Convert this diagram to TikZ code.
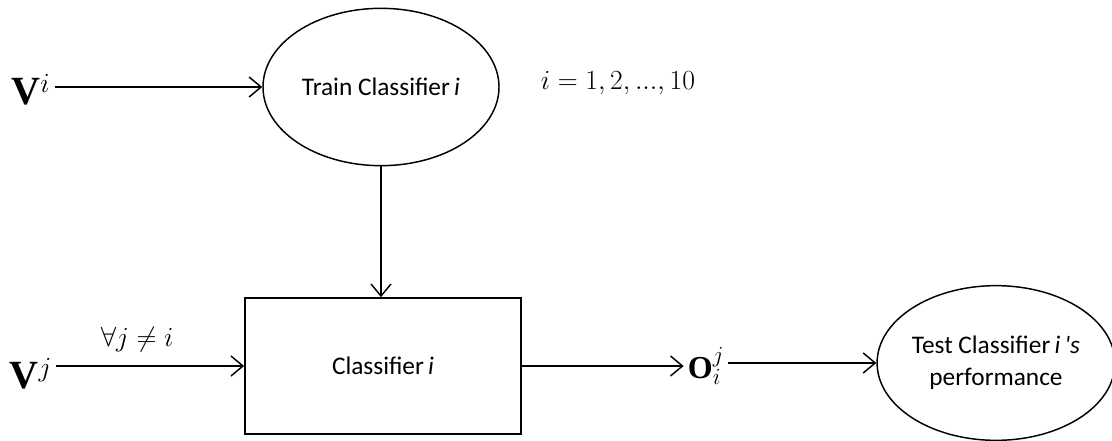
\documentclass[tikz,border=0pt]{standalone}
\usepackage{fontspec}
\setmainfont{Liberation Serif}
\newfontfamily\calibri{Carlito}
\usetikzlibrary{shapes.geometric,arrows.meta}

\tikzset{
  blob/.style={ellipse, draw, line width=1.1pt, inner sep=0pt, align=center,
    font=\calibri\fontsize{19}{24}\selectfont},
  box/.style={rectangle, draw, line width=1.3pt, inner sep=0pt,
    minimum width=207pt, minimum height=102pt, font=\calibri\fontsize{19}{24}\selectfont},
  arr/.style={line width=1.1pt, -{Straight Barb[length=9pt,width=15pt,line width=1.1pt]}},
  sym/.style={inner sep=3pt},
  bigsym/.style={sym, font=\fontsize{30}{36}\selectfont},
  midsym/.style={sym, font=\fontsize{20}{24}\selectfont}
}

\begin{document}
\begin{tikzpicture}[x=0.75pt,y=-0.75pt]
  \useasboundingbox (0,0) rectangle (1112,441);

  %% training
  \node[blob, minimum width=177pt, minimum height=118pt] (train) at (381,87)
    {Train Classifier\,\textit{i}};
  \node[bigsym] (vi) at (31,90) {$\mathbf{V}^{i}$};
  \node[midsym] (range) at (618,83) {$i=1,2,...,10$};

  %% classifier
  \node[box] (clf) at (383,366) {Classifier\,\textit{i}};
  \node[bigsym] (vj) at (31,374) {$\mathbf{V}^{j}$};

  %% output and test
  \node[sym, font=\fontsize{24}{28}\selectfont] (out) at (706,366) {$\mathbf{O}_{i}^{j}$};
  \node[blob, minimum width=172pt, minimum height=116pt] (test) at (996,363)
    {Test Classifier\,\textit{i\,'s}\\performance};

  %% arrows
  \draw[arr] (vi.east |- train.west) -- (train.west);
  \draw[arr] (train.south) -- (train.south |- clf.north);
  \draw[arr] (vj.east |- clf.west) -- node[midsym, above=7pt, pos=0.43]
    {$\forall j\neq i$} (clf.west);
  \draw[arr] (clf.east) -- (out.west |- clf.east);
  \draw[arr] (out.east |- test.west) -- (test.west);
\end{tikzpicture}
\end{document}
